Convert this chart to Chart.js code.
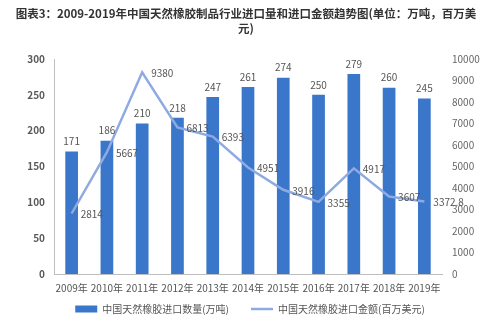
<!DOCTYPE html>
<html>
<head>
<meta charset="utf-8">
<script src="https://cdn.jsdelivr.net/npm/chart.js@4"></script>
<style>
  html, body { margin: 0; padding: 0; background: #fff; }
  #wrap { width: 500px; height: 324px; position: relative; }
  #title {
    position: absolute; left: 8px; top: 6px; width: 476px;
    font: bold 11.5px "Noto Sans CJK SC", "Noto Sans", sans-serif;
    line-height: 15px; color: #333; text-align: center;
  }
</style>
</head>
<body>
<div id="wrap">
  <canvas id="chart" width="500" height="324"></canvas>
  <div id="title"></div>
</div>
<script>
const years = ["2009年", "2010年", "2011年", "2012年", "2013年", "2014年", "2015年", "2016年", "2017年", "2018年", "2019年"];
const importVolume = [171, 186, 210, 218, 247, 261, 274, 250, 279, 260, 245];
const importValue = [2814, 5667, 9380, 6813, 6393, 4951, 3916, 3355, 4917, 3607, 3372.8];
const volumeLabel = "中国天然橡胶进口数量(万吨)";
const valueLabel = "中国天然橡胶进口金额(百万美元)";
const titleLines = ["图表3：2009-2019年中国天然橡胶制品行业进口量和进口金额趋势图(单位：万吨，百万美", "元)"];

const FONT = '"Noto Sans CJK SC", "Noto Sans", sans-serif';

document.getElementById('title').innerHTML = titleLines.join('<br>');

// labels on bars and next to line points
const valueLabels = {
    id: 'valueLabels',
    afterDatasetsDraw(chart) {
        const ctx = chart.ctx;
        ctx.save();
        ctx.font = '10px ' + FONT;
        ctx.fillStyle = '#555';
        chart.getDatasetMeta(0).data.forEach((bar, i) => {
            ctx.textAlign = 'center';
            ctx.textBaseline = 'middle';
            ctx.fillText(importVolume[i], bar.x, bar.y - 10);
        });
        chart.getDatasetMeta(1).data.forEach((pt, i) => {
            ctx.textAlign = 'left';
            ctx.textBaseline = 'middle';
            ctx.fillText(importValue[i], pt.x + 9, pt.y + 1);
        });
        ctx.restore();
    }
};

new Chart(document.getElementById('chart'), {
    data: {
        labels: years,
        datasets: [
            {
                type: 'bar',
                label: volumeLabel,
                data: importVolume,
                backgroundColor: '#3a76c9',
                barPercentage: 0.72,
                categoryPercentage: 0.5,
                yAxisID: 'y',
                order: 2
            },
            {
                type: 'line',
                label: valueLabel,
                data: importValue,
                borderColor: '#8eaae0',
                backgroundColor: '#8eaae0',
                borderWidth: 2.5,
                pointRadius: 0,
                tension: 0,
                yAxisID: 'y1',
                order: 1
            }
        ]
    },
    options: {
        responsive: false,
        animation: false,
        layout: { padding: { left: 0, right: 0, top: 59, bottom: 0 } },
        plugins: {
            legend: {
                position: 'bottom',
                labels: {
                    font: { family: FONT, size: 10 },
                    color: '#555',
                    usePointStyle: true,
                    pointStyleWidth: 22,
                    boxHeight: 7,
                    padding: 2,
                    generateLabels(chart) {
                        const items = Chart.defaults.plugins.legend.labels.generateLabels(chart);
                        items.forEach(it => {
                            if (it.datasetIndex === 0) {
                                it.pointStyle = 'rect'; it.lineWidth = 0;
                                it.text = it.text + '\u3000\u3000';  // wider gap before 2nd item
                            } else { it.pointStyle = 'line'; it.lineWidth = 2.5; }
                        });
                        return items.sort((a, b) => a.datasetIndex - b.datasetIndex);
                    }
                }
            },
            tooltip: { enabled: false }
        },
        scales: {
            x: {
                grid: { display: false, drawTicks: false },
                border: { color: '#bfbfbf' },
                ticks: { font: { family: FONT, size: 10 }, color: '#555', padding: 8, maxRotation: 0, autoSkip: false }
            },
            y: {
                position: 'left',
                min: 0, max: 300,
                grid: { display: false, drawTicks: false },
                border: { color: '#bfbfbf' },
                ticks: { stepSize: 50, font: { family: FONT, size: 10, weight: 'bold' }, color: '#595959', padding: 9 },
                afterFit(scale) { scale.width = 54; }
            },
            y1: {
                position: 'right',
                min: 0, max: 10000,
                grid: { display: false, drawTicks: false },
                border: { display: false },
                ticks: { stepSize: 1000, font: { family: FONT, size: 10 }, color: '#666', padding: 10, callback: v => String(v) },
                afterFit(scale) { scale.width = 58; }
            }
        }
    },
    plugins: [valueLabels]
});
</script>
</body>
</html>
